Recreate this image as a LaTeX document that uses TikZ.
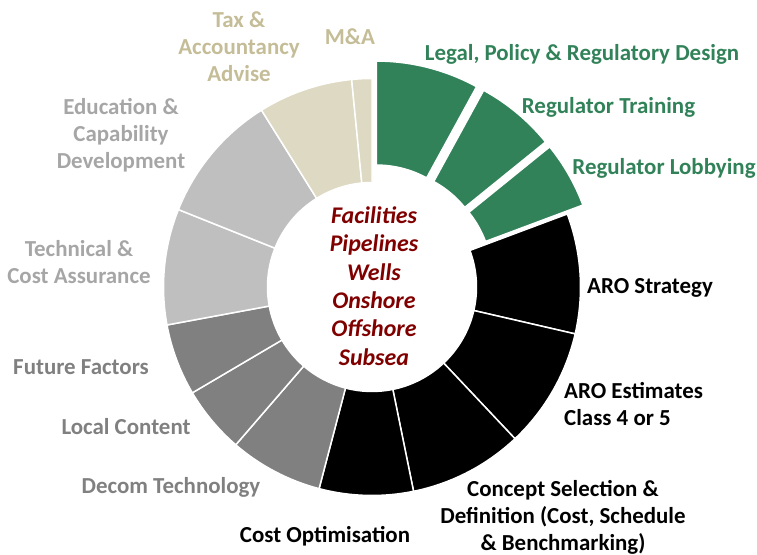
\documentclass[tikz,border=0pt]{standalone}
\usepackage{fontspec}
\setmainfont{Carlito}
\usepackage{xcolor}
\usetikzlibrary{positioning}

\definecolor{regGreen}{RGB}{49,130,89}
\definecolor{taxTan}{RGB}{221,217,195}
\definecolor{taxText}{RGB}{196,189,151}
\definecolor{eduGrey}{RGB}{191,191,191}
\definecolor{eduText}{RGB}{166,166,166}
\definecolor{midGrey}{RGB}{128,128,128}
\definecolor{assetRed}{RGB}{128,0,0}

\newcommand{\rin}{104.5}
\newcommand{\rout}{208.5}
% ring piece: [extra options] start angle, end angle, fill
\newcommand{\ringpart}[4][]{%
  \filldraw[seg, fill=#4, #1] (#2:\rin) arc[start angle=#2, end angle=#3, radius=\rin]
    -- (#3:\rout) arc[start angle=#3, end angle=#2, radius=\rout] -- cycle;}

\begin{document}
\begin{tikzpicture}[
    x=1bp, y=1bp,
    seg/.style={draw=white, line width=1.5pt},
    lbl/.style={font=\fontsize{23}{27}\selectfont\bfseries, align=center, inner sep=0pt},
    hub/.style={font=\fontsize{24}{28.5}\selectfont\bfseries\itshape, align=center, text=assetRed, inner sep=0pt}
]
\useasboundingbox (-372,-268) rectangle (385,287);

% Regulatory pieces (pulled out)
\ringpart[shift={(75.65:18)}]{61.3}{90}{regGreen}
\ringpart[shift={(50.15:18)}]{39}{61.3}{regGreen}
\ringpart[shift={(29.75:18)}]{20.5}{39}{regGreen}

% ARO pieces
\ringpart{-13}{20.5}{black}
\ringpart{-46.7}{-13}{black}
\ringpart{-78.5}{-46.7}{black}
\ringpart{-104.7}{-78.5}{black}

% Technology pieces
\ringpart{-130.8}{-104.7}{midGrey}
\ringpart{-149.5}{-130.8}{midGrey}
\ringpart{-169.5}{-149.5}{midGrey}

% Assurance and education
\ringpart{158.2}{190.5}{eduGrey}
\ringpart{122}{158.2}{eduGrey}

% Tax and M&A
\ringpart{95.6}{122}{taxTan}
\ringpart{90}{95.6}{taxTan}

% Centre
\node[hub] (assets) at (2,1) {Facilities\\Pipelines\\Wells\\Onshore\\Offshore\\Subsea};

% Labels
\node[lbl, text=regGreen] (legal) at (210,233) {Legal, Policy \& Regulatory Design};
\node[lbl, text=regGreen] (training) at (236.5,180) {Regulator Training};
\node[lbl, text=regGreen] (lobbying) at (292,119) {Regulator Lobbying};
\node[lbl, anchor=west] (arostrat) at (215,-1) {ARO Strategy};
\node[lbl, anchor=west, align=left] (aroest) at (192,-117) {ARO Estimates\\Class 4 or 5};
\node[lbl] (concept) at (191,-230) {Concept Selection \&\\Definition (Cost, Schedule\\\& Benchmarking)};
\node[lbl] (costopt) at (-47,-249) {Cost Optimisation};
\node[lbl, text=midGrey] (decom) at (-201,-200) {Decom Technology};
\node[lbl, text=midGrey] (local) at (-246,-140) {Local Content};
\node[lbl, text=midGrey] (future) at (-291,-80) {Future Factors};
\node[lbl, text=eduText] (technical) at (-293,25) {Technical \&\\Cost Assurance};
\node[lbl, text=eduText] (education) at (-251,152) {Education \&\\Capability\\Development};
\node[lbl, text=taxText] (tax) at (-133,240) {Tax \&\\Accountancy\\Advise};
\node[lbl, text=taxText] (ma) at (-22,250) {M\&A};
\end{tikzpicture}
\end{document}
